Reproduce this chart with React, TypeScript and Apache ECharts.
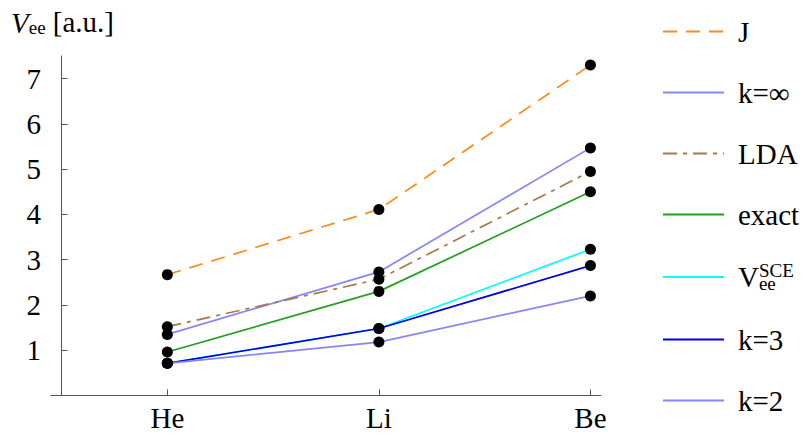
import React, { useEffect, useRef } from "react";
import * as echarts from "echarts";

const categories = ["He", "Li", "Be"];
const seriesNames = ["J", "k=∞", "LDA", "exact", "SCE", "k=3", "k=2"];
const J = [2.67, 4.11, 7.3];
const kInf = [1.35, 2.73, 5.47];
const LDA = [1.52, 2.57, 4.95];
const exact = [0.96, 2.3, 4.5];
const SCE = [0.71, 1.48, 3.23];
const k3 = [0.71, 1.48, 2.87];
const k2 = [0.71, 1.18, 2.2];
const yTicks = [1, 2, 3, 4, 5, 6, 7];

const FONT = '"Liberation Serif", "Times New Roman", serif';

export default function App() {
  const ref = useRef<HTMLDivElement>(null);
  useEffect(() => {
    if (!ref.current) return;
    const chart = echarts.init(ref.current, null, { renderer: "svg" });
    const xPos = categories.map((_, i) => i + 0.5);
    const allData = [J, kInf, LDA, exact, SCE, k3, k2];
    const styles = [
      { color: "#FF8A1A", type: [14, 9] as any },
      { color: "#8585FF", type: "solid" },
      { color: "#A8784A", type: [14, 6, 4, 6] as any },
      { color: "#1FA01F", type: "solid" },
      { color: "#00FFFF", type: "solid" },
      { color: "#0000E6", type: "solid" },
      { color: "#8585FF", type: "solid" },
    ];
    const lineSeries = seriesNames.map((name, s) => ({
      name,
      type: "line",
      symbol: "none",
      color: styles[s].color,
      lineStyle: { color: styles[s].color, width: 1.7, type: styles[s].type },
      data: allData[s].map((v, i) => [xPos[i], v]),
      z: 2,
    }));
    const points: number[][] = [];
    allData.forEach((arr) => arr.forEach((v, i) => points.push([xPos[i], v])));
    const option: any = {
      animation: false,
      textStyle: { fontFamily: FONT },
      title: {
        text: "{i|V}{s|ee} [a.u.]",
        left: 6,
        top: 2,
        textStyle: {
          fontFamily: FONT,
          fontSize: 29,
          fontWeight: "normal",
          color: "#000",
          rich: {
            i: { fontFamily: FONT, fontSize: 29, fontStyle: "italic", color: "#000", verticalAlign: "bottom", lineHeight: 30 },
            s: { fontFamily: FONT, fontSize: 19, color: "#000", verticalAlign: "bottom", lineHeight: 24 },
          },
        },
      },
      grid: { left: 51, right: 208, top: 56, bottom: 39.5 },
      xAxis: {
        type: "value",
        min: -0.05,
        max: 2.55,
        splitLine: { show: false },
        axisLine: { show: true, onZero: false, lineStyle: { color: "#555", width: 1 } },
        axisTick: { show: true, inside: true, length: 6, customValues: xPos, lineStyle: { color: "#555" } },
        axisLabel: {
          customValues: xPos,
          formatter: (v: number) => categories[Math.round(v - 0.5)] ?? "",
          fontFamily: FONT,
          fontSize: 29,
          color: "#000",
          margin: 8,
        },
      },
      yAxis: {
        type: "value",
        min: 0,
        max: 7.5,
        splitLine: { show: false },
        axisLine: { show: true, onZero: true, lineStyle: { color: "#555", width: 1 } },
        axisTick: { show: true, inside: true, length: 6, customValues: yTicks, lineStyle: { color: "#555" } },
        axisLabel: {
          customValues: yTicks,
          fontFamily: FONT,
          fontSize: 29,
          color: "#000",
          margin: 10,
        },
      },
      legend: {
        orient: "vertical",
        left: 657,
        top: 12,
        itemWidth: 61,
        itemHeight: 28,
        itemGap: 32,
        data: seriesNames,
        itemStyle: { opacity: 0 },
        formatter: (name: string) => (name === "SCE" ? "{v|V}{sub|ee}{sup|SCE}" : name),
        textStyle: {
          fontFamily: FONT,
          fontSize: 29,
          color: "#000",
          padding: [0, 0, 0, 9],
          rich: {
            v: { fontFamily: FONT, fontSize: 29, color: "#000", lineHeight: 32, verticalAlign: "middle" },
            sub: { fontFamily: FONT, fontSize: 19, color: "#000", lineHeight: 32, verticalAlign: "bottom", width: 0.01 },
            sup: { fontFamily: FONT, fontSize: 19, color: "#000", lineHeight: 32, verticalAlign: "top" },
          },
        },
      },
      series: [
        ...lineSeries,
        {
          name: "points",
          type: "scatter",
          symbol: "circle",
          symbolSize: 11,
          itemStyle: { color: "#000", opacity: 1 },
          data: points,
          z: 5,
        },
      ],
    };
    chart.setOption(option);
    return () => chart.dispose();
  }, []);
  return <div ref={ref} style={{ position: "absolute", left: 0, top: 0, width: 809, height: 435 }} />;
}
